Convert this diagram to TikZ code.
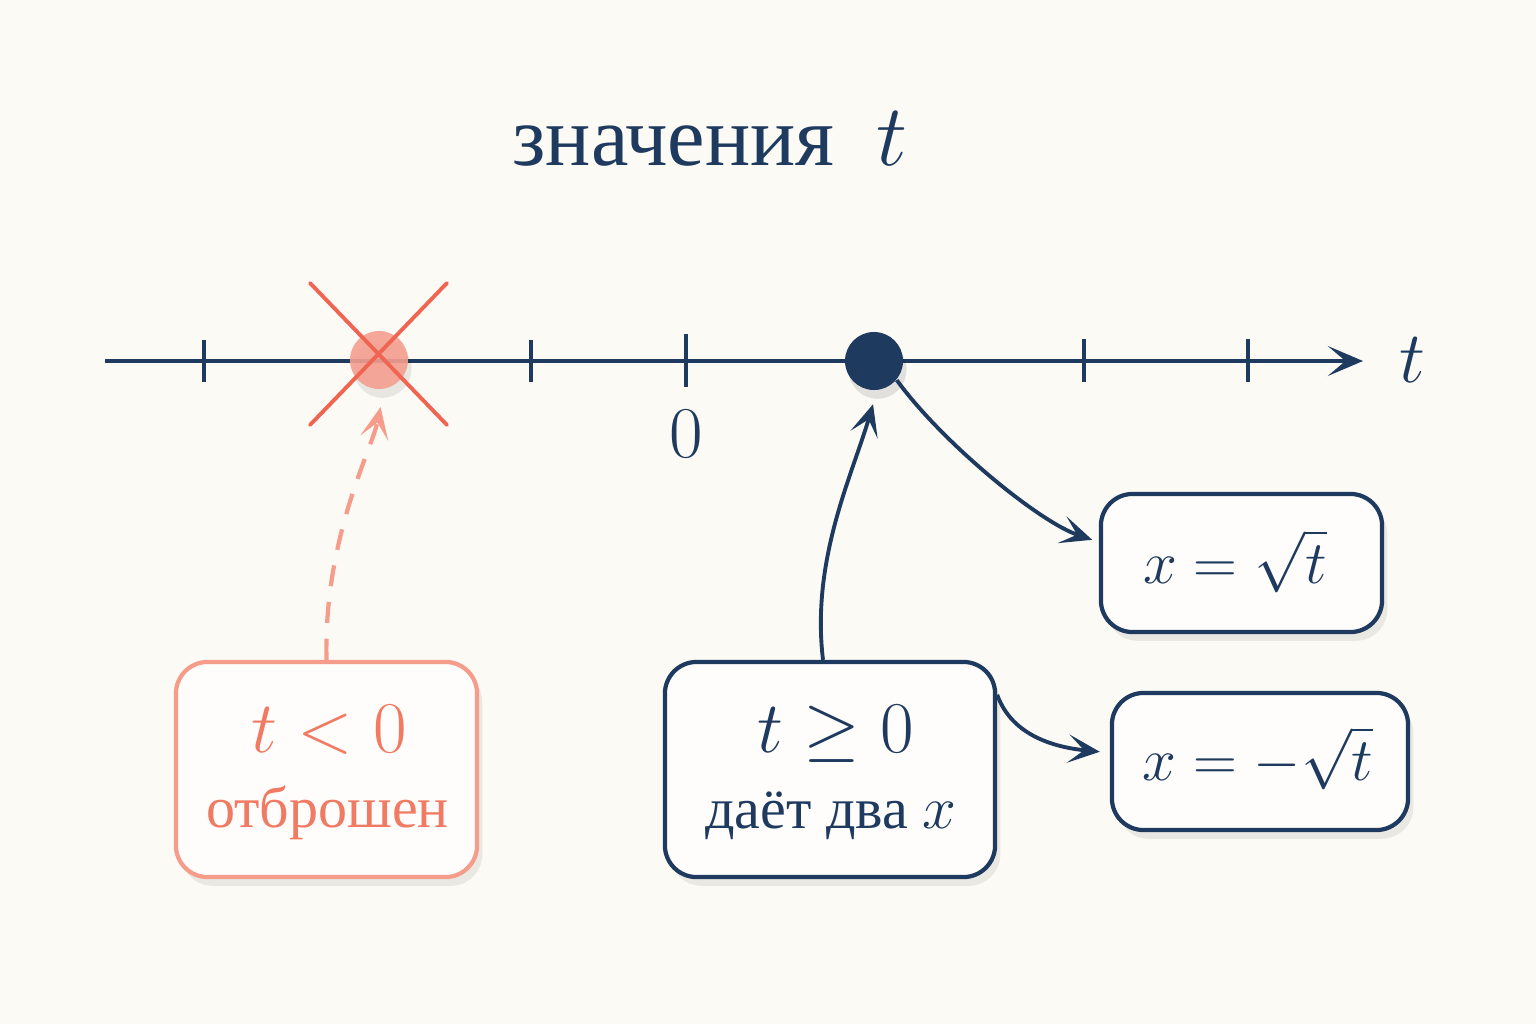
\documentclass[tikz,border=0pt]{standalone}
\usepackage{fontspec}
\setmainfont{Liberation Serif}
\usetikzlibrary{arrows.meta,shadows,calc}
\definecolor{navy}{HTML}{1F3A5F}
\definecolor{salmontext}{HTML}{F07A62}
\definecolor{salmonline}{HTML}{F59C8A}
\definecolor{crossred}{HTML}{F06551}
\definecolor{dotred}{HTML}{F5A08F}
\definecolor{bg}{HTML}{FCFAF5}
\begin{document}
\begin{tikzpicture}[x=0.01cm,y=-0.01cm,
  axisline/.style={navy,line width=1.1pt},
  tickmark/.style={navy,line width=1.1pt},
  softshadow/.style={drop shadow={shadow xshift=1.5pt,shadow yshift=-2.5pt,opacity=0.07,fill=black}},
  navybox/.style={draw=navy,line width=1.2pt,rounded corners=9pt,fill=bg!40!white,softshadow},
  salmonbox/.style={draw=salmonline,line width=1.2pt,rounded corners=9pt,fill=bg!40!white,softshadow},
  navyarrow/.style={navy,line width=1.1pt,-{Stealth[length=9pt,width=8pt,inset=4.5pt]}},
  salmonarrow/.style={salmonline,line width=1.2pt,dashed,dash pattern=on 6pt off 4.5pt,-{Stealth[length=9pt,width=8pt,inset=4.5pt]}},
  mathlbl/.style={anchor=base,font=\fontsize{20}{20}\selectfont},
  xlbl/.style={anchor=base,font=\fontsize{19}{19}\selectfont},
  wordlbl/.style={anchor=base,font=\fontsize{16.5}{16.5}\selectfont},
]
\useasboundingbox (0,0) rectangle (1536,1024);
\fill[bg] (0,0) rectangle (1536,1024);

% title
\node[anchor=base,navy,font=\fontsize{24}{24}\selectfont] (title) at (710,165) {значения\hspace{12pt}{\fontsize{26}{26}\selectfont$t$}};

% axis
\coordinate (axL) at (105,361);
\coordinate (axR) at (1363,361);
\draw[axisline,-{Stealth[length=10pt,width=8.5pt,inset=5pt]}] (axL) -- (axR);
\foreach \xx/\ya/\yb in {204/340/382, 531/340/382, 686/334/387, 1084/339/382, 1248/339/382}
  \draw[tickmark] (\xx,\ya) -- (\xx,\yb);
\node[anchor=base,navy,font=\fontsize{21}{21}\selectfont] (tlab) at (1412,382) {$t$};
\node[anchor=base,navy,font=\fontsize{20}{20}\selectfont] (zero) at (686,457) {$0$};

% discarded point
\node[circle,minimum size=0.58cm,inner sep=0pt,fill=dotred,fill opacity=0.9,
  drop shadow={shadow xshift=1pt,shadow yshift=-2.5pt,opacity=0.08,fill=black}] (rdot) at (379,360) {};
\draw[crossred,line width=1.1pt,line cap=round] ($(rdot)+(-69,-77)$) -- ($(rdot)+(68,65)$);
\draw[crossred,line width=1.1pt,line cap=round] ($(rdot)+(68,-77)$) -- ($(rdot)+(-69,65)$);

% kept point
\node[circle,minimum size=0.58cm,inner sep=0pt,fill=navy,
  drop shadow={shadow xshift=1pt,shadow yshift=-2.5pt,opacity=0.1,fill=black}] (ddot) at (874,361) {};

% boxes
\node[salmonbox,minimum width=3.01cm,minimum height=2.15cm] (lbox) at (326.5,769.5) {};
\node[mathlbl,salmontext] (lboxa) at (329,752) {$t<0$};
\node[wordlbl,salmontext] (lboxb) at (327.5,827) {отброшен};

\node[navybox,minimum width=3.30cm,minimum height=2.15cm] (mbox) at (830,769.5) {};
\node[mathlbl,navy] (mboxa) at (836,752) {$t\geq 0$};
\node[wordlbl,navy] (mboxb) at (831,828) {даёт два $x$};

\node[navybox,minimum width=2.81cm,minimum height=1.38cm] (rtbox) at (1241.5,563) {};
\node[xlbl,navy] (rtboxa) at (1235,583) {$x=\sqrt{t}$};

\node[navybox,minimum width=2.96cm,minimum height=1.37cm] (rbbox) at (1260,761.5) {};
\node[xlbl,navy] (rbboxa) at (1258,780) {$x=-\sqrt{t}$};

% connectors
\draw[salmonarrow,shorten >=5pt] (lbox.north) .. controls +(-3,-122) and +(-12,60) .. ($(rdot.south)+(5,0)$);
\draw[navyarrow,shorten >=4pt] ($(mbox.north)+(-7,0)$) .. controls +(-12,-100) and +(-25,85) .. ($(ddot.south)+(3,0)$);
\draw[navyarrow,shorten >=2pt] (ddot.-40) .. controls +(45,62) and +(-60,-20) .. ($(rtbox.west)+(0,-21)$);
\draw[navyarrow,shorten >=2pt] ($(mbox.north east)+(0,35)$) .. controls +(15,42) and +(-50,-5) .. ($(rbbox.west)+(-3,-9)$);
\end{tikzpicture}
\end{document}
